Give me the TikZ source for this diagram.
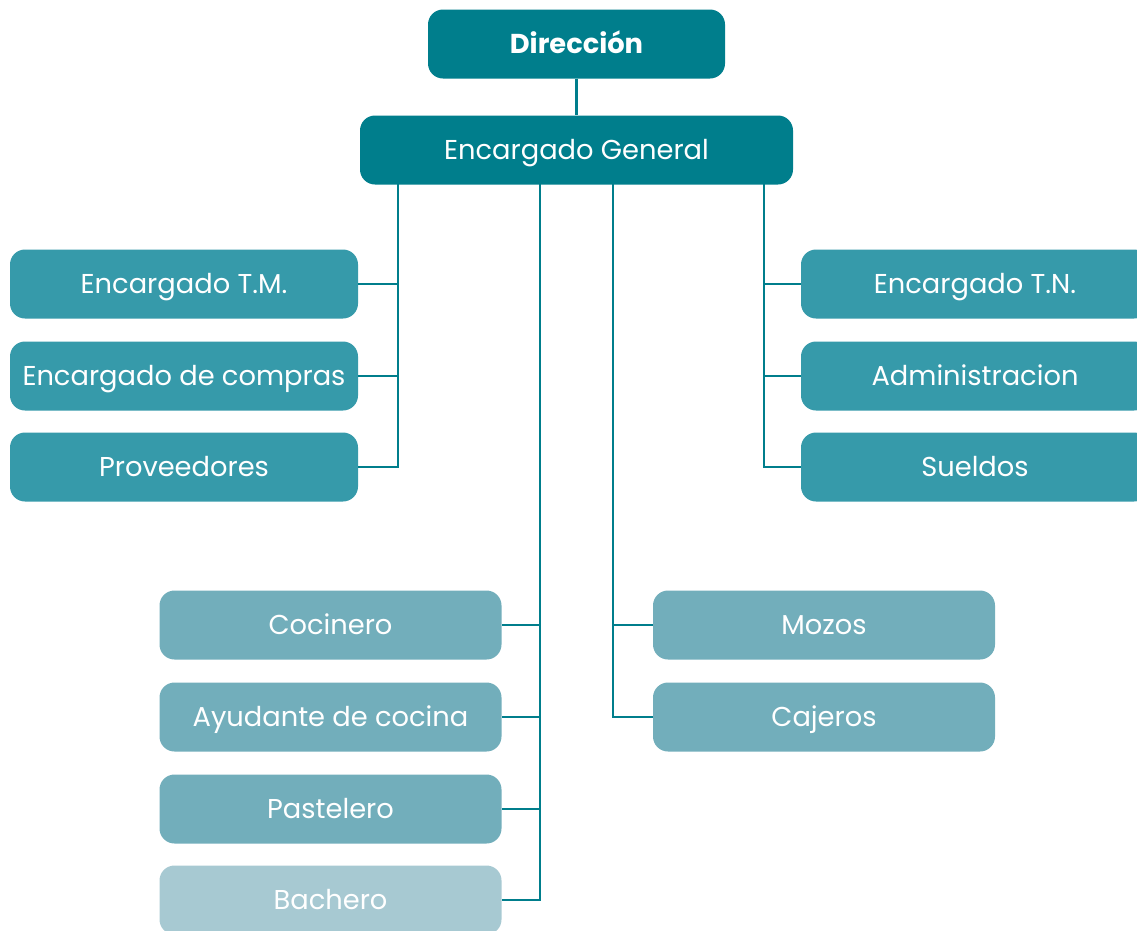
\documentclass[tikz,border=0pt]{standalone}
\usepackage{fontspec}
\setmainfont{Poppins}
\usepackage{tikz}

\definecolor{tealdark}{HTML}{007E8C}
\definecolor{tealmid}{HTML}{369AAA}
\definecolor{teallight}{HTML}{72AEBB}
\definecolor{tealpale}{HTML}{A7C9D2}

\tikzset{
  box/.style={rectangle, rounded corners=15pt, text=white, inner sep=0pt,
    minimum height=69pt, text height=19pt, text depth=0pt,
    font=\fontsize{27.3}{32}\selectfont},
  topbox/.style={box, fill=tealdark},
  midbox/.style={box, fill=tealmid, minimum width=348pt},
  lowbox/.style={box, fill=teallight, minimum width=342pt},
  link/.style={draw=tealdark, line width=2.5pt}
}

\begin{document}
\begin{tikzpicture}[x=1pt, y=-1pt]
  \useasboundingbox (0,0) rectangle (1137,930);

  %Define nodes
  \node[topbox, minimum width=297pt, font=\fontsize{27.3}{32}\selectfont\bfseries] (dir) at (576.5,44) {Dirección};
  \node[topbox, minimum width=433pt] (eg) at (576.5,150) {Encargado General};

  \node[midbox] (tm) at (184,284) {Encargado T.M.};
  \node[midbox] (compras) at (184,376) {Encargado de compras};
  \node[midbox] (prov) at (184,467) {Proveedores};

  \node[midbox] (tn) at (975,284) {Encargado T.N.};
  \node[midbox] (admin) at (975,376) {Administracion};
  \node[midbox] (sueldos) at (975,467) {Sueldos};

  \node[lowbox] (cocinero) at (330.5,625) {Cocinero};
  \node[lowbox] (ayudante) at (330.5,717) {Ayudante de cocina};
  \node[lowbox] (pastelero) at (330.5,809) {Pastelero};
  \node[lowbox, fill=tealpale] (bachero) at (330.5,900) {Bachero};

  \node[lowbox] (mozos) at (824,625) {Mozos};
  \node[lowbox] (cajeros) at (824,717) {Cajeros};

  % Trunk tops
  \coordinate (ltrunk) at (398,184);
  \coordinate (ktrunk) at (540,184);
  \coordinate (strunk) at (613,184);
  \coordinate (rtrunk) at (764,184);

  % Connect the nodes
  \draw[link] (dir) -- (eg);
  \foreach \n in {tm, compras, prov} \draw[link] (ltrunk) |- (\n.east);
  \foreach \n in {tn, admin, sueldos} \draw[link] (rtrunk) |- (\n.west);
  \foreach \n in {cocinero, ayudante, pastelero, bachero} \draw[link] (ktrunk) |- (\n.east);
  \foreach \n in {mozos, cajeros} \draw[link] (strunk) |- (\n.west);

\end{tikzpicture}
\end{document}
